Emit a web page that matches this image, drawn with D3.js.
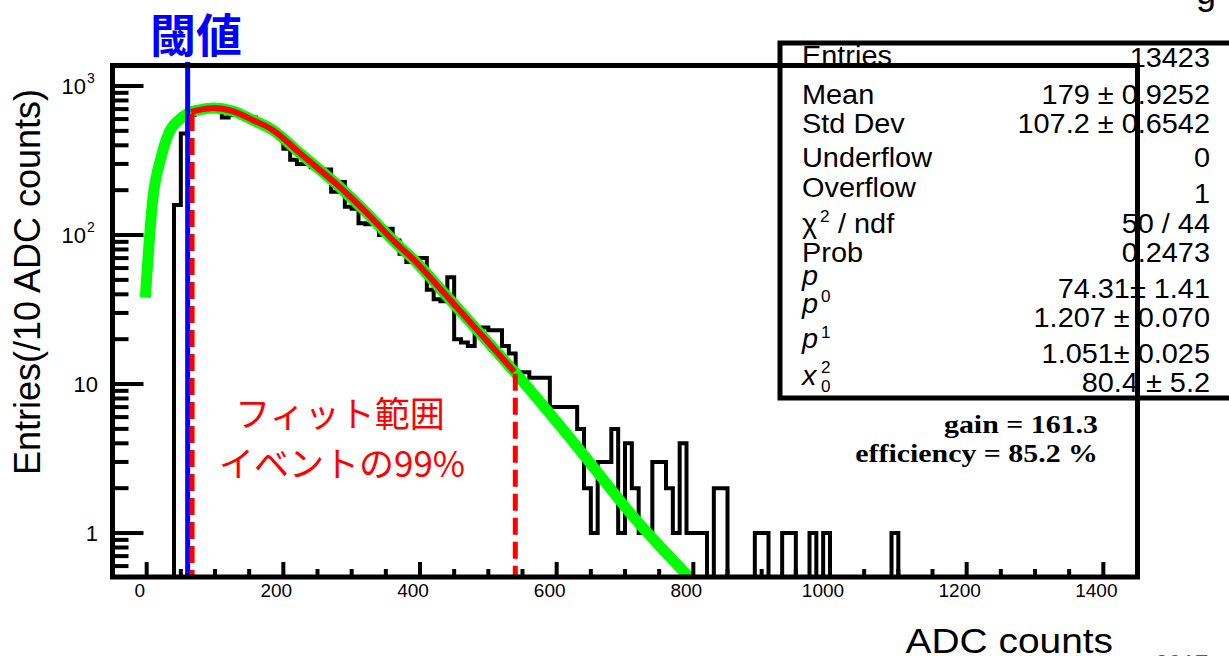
<!DOCTYPE html>
<html><head><meta charset="utf-8">
<script src="https://cdn.jsdelivr.net/npm/d3@7"></script>
<style>html,body{margin:0;padding:0;background:#fff}svg{display:block}</style>
</head><body>
<svg id="chart" width="1229" height="656"></svg>
<script>
// ---------------- data ----------------
const binWidth = 10;           // ADC counts per bin, bins start at 0
const counts = [
  0,0,0,0,159,480,640,690,720,725,            // 0-100
  700,615,640,645,610,615,560,520,500,470,    // 100-200
  380,320,300,300,285,275,275,195,227,155,    // 200-300
  150,120,118,118,100,110,92,75,66,70,        // 300-400
  70,43,37,36,52,20,19,18,24,24,              // 400-500
  23,23,18,16,12,12,11,11,11,7,               // 500-600
  7,7,7,5,2,1,3,3,5,1,                        // 600-700
  4,2,1,1,3,3,2,1,4,1,                        // 700-800
  1,1,0,2,2,0,0,0,0,1,                        // 800-900
  1,0,0,1,1,0,0,1,0,1,                        // 900-1000
  0,0,0,0,0,0,0,0,0,1                         // 1000-1100
];
const fitX = [-2, 9, 21, 33, 48, 60, 65, 77, 97, 126, 155, 185, 224, 283, 322, 366, 390, 429, 488, 538, 634, 712, 795];
const fitY = [38, 174, 331, 490, 596, 653, 670, 692, 713, 679, 592, 505, 355, 209, 141, 87, 69, 43.9, 21.9, 12.1, 3.6, 1.29, 0.5];
const fitRange = [65, 538];
const threshold = 60;
const xTickValues = [0, 200, 400, 600, 800, 1000, 1200, 1400];
const yTickValues = [1, 10, 100, 1000];
const yTickBase = ["1", "10", "10", "10"];
const yTickExp = ["", "", "2", "3"];
const statsNames = ["Entries", "Mean", "Std Dev", "Underflow", "Overflow", "χ2 / ndf", "Prob", "p", "p0", "p1", "x0 2"];
const statsValues = ["13423", "179 ± 0.9252", "107.2 ± 0.6542", "0", "1", "50 / 44", "0.2473", "74.31± 1.41", "1.207 ± 0.070", "1.051± 0.025", "80.4 ± 5.2"];
const gainText = "gain = 161.3";
const effText = "efficiency = 85.2 %";
const thresholdLabel = "閾値";
const fitLabel = ["フィット範囲", "イベントの99%"];
const xTitle = "ADC counts";
const yTitle = "Entries(/10 ADC counts)";

// ---------------- layout ----------------
const svg = d3.select("#chart");
const L = 112.5, R = 1137.5, T = 65.5, B = 577;
const x = d3.scaleLinear().domain([-50, 1450]).range([L, R]);
const y = d3.scaleLog().domain([0.507, 1373]).range([B, T]);
const SANS = "'Liberation Sans', Arial, Helvetica, sans-serif";
const SERIF = "'Liberation Serif', 'Times New Roman', serif";
const CJK = "'Noto Sans CJK JP', 'Noto Sans CJK SC', sans-serif";

function txt(parent, px, py, s, o = {}) {
  const t = parent.append("text")
    .attr("transform", `translate(${px},${py}) scale(${o.sx || 1},1)`)
    .attr("font-family", o.ff || SANS)
    .attr("font-size", o.fs || 20)
    .attr("text-anchor", o.anchor || "start")
    .attr("fill", o.fill || "#000");
  if (o.fw) t.attr("font-weight", o.fw);
  if (o.it) t.attr("font-style", "italic");
  t.text(s);
  return t;
}

svg.append("rect").attr("width", 1229).attr("height", 656).attr("fill", "#fff");

const defs = svg.append("defs");
defs.append("clipPath").attr("id", "plotclip").append("rect")
  .attr("x", L).attr("y", T).attr("width", R - L).attr("height", B - T);

const plot = svg.append("g").attr("clip-path", "url(#plotclip)");

// histogram outline
const nBins = Math.round((1450 - 0) / binWidth);
const hpts = [[x(-50), B]];
for (let i = 0; i < nBins; i++) {
  const v = i < counts.length ? counts[i] : 0;
  const yy = v > 0 ? y(v) : B + 1;
  hpts.push([x(i * binWidth), yy], [x((i + 1) * binWidth), yy]);
}
plot.append("path").attr("d", d3.line()(hpts))
  .attr("fill", "none").attr("stroke", "#000").attr("stroke-width", 4)
  .attr("stroke-linejoin", "miter");

// fit curve (green full, red in fit range)
const fitPts = fitX.map((v, i) => [v, fitY[i]]);
const fline = d3.line().x(d => x(d[0])).y(d => y(d[1])).curve(d3.curveMonotoneX);
plot.append("path").attr("d", fline(fitPts))
  .attr("fill", "none").attr("stroke", "#00ff00").attr("stroke-width", 11);
const redPts = fitPts.filter(d => d[0] >= fitRange[0] && d[0] <= fitRange[1]);
plot.append("path").attr("d", fline(redPts))
  .attr("fill", "none").attr("stroke", "#ff0000").attr("stroke-width", 6);

// threshold line
svg.append("line").attr("x1", x(threshold)).attr("x2", x(threshold))
  .attr("y1", 62).attr("y2", B).attr("stroke", "#0000ff").attr("stroke-width", 5);

// fit range dashed lines
fitRange.forEach(v => {
  const yv = redPts.find(d => d[0] === v)[1];
  svg.append("line").attr("x1", x(v) + 1).attr("x2", x(v) + 1)
    .attr("y1", y(yv) + 2).attr("y2", B)
    .attr("stroke", "#ff0000").attr("stroke-width", 5).attr("stroke-dasharray", "17,7");
});

// stats box
const st = svg.append("g");
st.append("rect").attr("x", 780).attr("y", 43).attr("width", 520).attr("height", 355)
  .attr("fill", "#fff").attr("stroke", "#000").attr("stroke-width", 5);
const nameY = [65, 104, 133, 167, 197, 233, 262, 285, 313, 348, 385];
const valY = [67, 104, 133, 167, 203, 233, 262, 298, 327, 363, 392];
const SX = 1.07, FS = 27;
statsNames.forEach((n, i) => {
  if (i === 5) {
    txt(st, 802, nameY[i], "χ", { fs: FS, sx: SX });
    txt(st, 820, 222, "2", { fs: 16, sx: SX });
    txt(st, 838, nameY[i], "/ ndf", { fs: FS, sx: SX });
  } else if (i >= 7 && i <= 9) {
    txt(st, 802, nameY[i], "p", { fs: FS, sx: SX, it: true });
    if (i === 8) txt(st, 821, 302, "0", { fs: 16, sx: SX });
    if (i === 9) txt(st, 821, 338, "1", { fs: 16, sx: SX });
  } else if (i === 10) {
    txt(st, 802, nameY[i], "x", { fs: FS, sx: SX, it: true });
    txt(st, 821, 373, "2", { fs: 16, sx: SX });
    txt(st, 821, 392, "0", { fs: 16, sx: SX });
  } else {
    txt(st, 802, nameY[i], n, { fs: FS, sx: SX });
  }
});
statsValues.forEach((v, i) => {
  txt(st, 1210, valY[i], v, { fs: FS, sx: SX, anchor: "end" });
});

// frame
svg.append("rect").attr("x", L).attr("y", T).attr("width", R - L).attr("height", B - T)
  .attr("fill", "none").attr("stroke", "#000").attr("stroke-width", 5);

// x ticks
const ax = svg.append("g");
for (let v = -50; v <= 1450; v += 50) {
  const major = v % 200 === 0;
  ax.append("line").attr("x1", x(v)).attr("x2", x(v))
    .attr("y1", B).attr("y2", B - (major ? 15 : 8))
    .attr("stroke", "#000").attr("stroke-width", 4);
}
xTickValues.forEach(v => {
  txt(ax, x(v) - 7, 597, d3.format("d")(v), { fs: 19, anchor: "middle" });
});

// y ticks
[0.1, 1, 10, 100, 1000].forEach(d => {
  for (let m = 1; m <= 9; m++) {
    const v = m * d;
    if (v < 0.507 || v > 1373) continue;
    ax.append("line").attr("x1", L).attr("x2", L + (m === 1 ? 31 : 16))
      .attr("y1", y(v)).attr("y2", y(v))
      .attr("stroke", "#000").attr("stroke-width", 4);
  }
});
yTickValues.forEach((v, i) => {
  if (yTickExp[i]) {
    txt(ax, 86, y(v) + 8, yTickBase[i], { fs: 22, anchor: "end" });
    txt(ax, 87, y(v) - 3, yTickExp[i], { fs: 14 });
  } else {
    txt(ax, 98, y(v) + 8, yTickBase[i], { fs: 22, anchor: "end" });
  }
});

// axis titles
txt(svg, 1113, 653, xTitle, { fs: 36, anchor: "end", sx: 1.08 });
svg.append("text").attr("transform", `translate(40,282) rotate(-90)`)
  .attr("font-family", SANS).attr("font-size", 36).attr("text-anchor", "middle")
  .text(yTitle);

// annotations
txt(svg, 1098, 433, gainText, { ff: SERIF, fs: 26, fw: "bold", anchor: "end", sx: 1.15 });
txt(svg, 1098, 462, effText, { ff: SERIF, fs: 26, fw: "bold", anchor: "end", sx: 1.15 });
txt(svg, 150, 52, thresholdLabel, { ff: CJK, fs: 46, fill: "#0000ff", fw: "bold" });
txt(svg, 340, 427, fitLabel[0], { ff: CJK, fs: 35, fill: "#ff0000", anchor: "middle" });
txt(svg, 342, 477, fitLabel[1], { ff: CJK, fs: 35, fill: "#ff0000", anchor: "middle" });

// slide remnants at edges
txt(svg, 1196, 4, "g", { fs: 36 });
txt(svg, 1155, 672, "2017", { fs: 24, fill: "#595959" });
</script>
</body></html>
